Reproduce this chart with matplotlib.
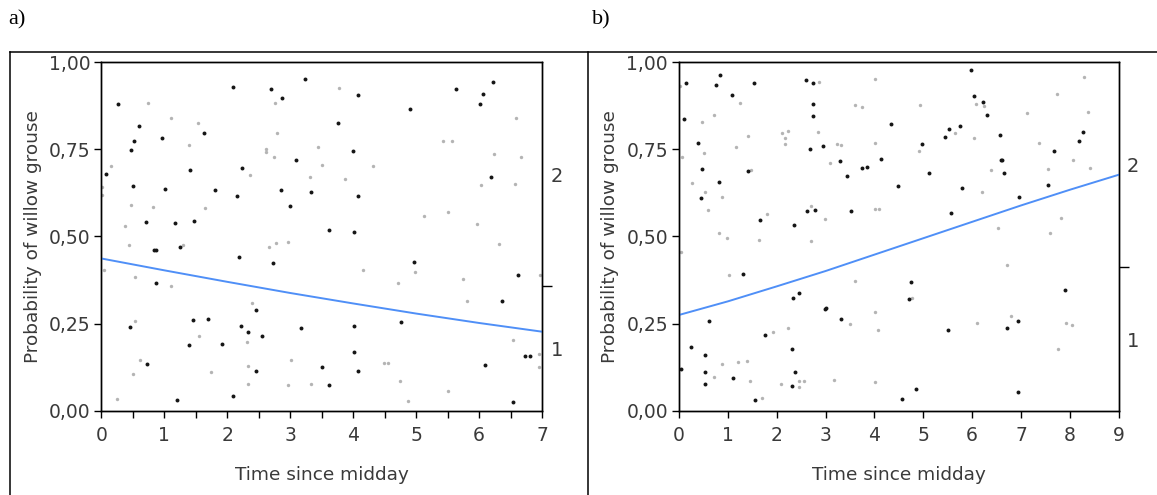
import matplotlib
matplotlib.use("Agg")
import matplotlib.pyplot as plt
from matplotlib.lines import Line2D

# ---- panel a) ----
a_black_x = [0.27, 0.07, 0.97, 0.60, 0.52, 0.47, 0.51, 0.71, 0.84, 0.87, 1.02, 1.17, 1.25, 1.48,
             1.63, 1.41, 1.80, 0.87, 0.72, 0.46, 1.45, 1.39, 1.69, 1.92, 1.20, 2.09, 2.23, 2.16,
             2.18, 2.22, 2.33, 2.45, 2.56, 2.46, 2.09, 2.70, 2.87, 3.23, 2.85, 2.73, 2.99, 3.09,
             3.33, 3.61, 3.76, 4.07, 3.99, 4.07, 4.02, 3.17, 3.50, 3.61, 4.02, 4.01, 4.08, 4.91,
             4.96, 4.76, 5.64, 6.02, 6.07, 6.22, 6.19, 6.62, 6.37, 6.10, 6.54, 6.73, 6.81]
a_black_y = [0.881, 0.679, 0.781, 0.816, 0.775, 0.748, 0.644, 0.541, 0.462, 0.462, 0.635, 0.539,
             0.469, 0.545, 0.796, 0.692, 0.632, 0.367, 0.133, 0.240, 0.260, 0.188, 0.263, 0.191,
             0.031, 0.928, 0.697, 0.617, 0.441, 0.244, 0.227, 0.288, 0.214, 0.114, 0.042, 0.923,
             0.897, 0.952, 0.633, 0.423, 0.587, 0.720, 0.629, 0.519, 0.825, 0.906, 0.746, 0.616,
             0.512, 0.238, 0.127, 0.073, 0.242, 0.170, 0.113, 0.866, 0.427, 0.254, 0.923, 0.880,
             0.909, 0.944, 0.671, 0.389, 0.315, 0.131, 0.024, 0.156, 0.156]
a_grey_x = [0.15, 0.05, 0.01, 0.01, 0.25, 0.75, 0.44, 0.48, 0.38, 0.82, 0.53, 0.54, 0.51, 0.62,
            1.10, 1.10, 1.30, 1.53, 1.56, 1.65, 1.40, 1.75, 2.36, 2.62, 2.62, 2.76, 2.79, 2.74,
            2.67, 2.78, 2.96, 2.32, 2.33, 2.33, 2.39, 3.01, 2.97, 3.31, 3.33, 3.51, 3.45, 3.87,
            3.77, 4.15, 4.32, 4.72, 4.74, 4.49, 4.55, 4.87, 4.98, 5.13, 5.43, 5.57, 5.51, 5.51,
            5.75, 5.81, 5.96, 6.03, 6.24, 6.31, 6.58, 6.57, 6.66, 6.54, 6.95, 6.95, 6.97]
a_grey_y = [0.703, 0.404, 0.643, 0.619, 0.033, 0.882, 0.475, 0.591, 0.530, 0.584, 0.383, 0.259,
            0.107, 0.145, 0.839, 0.358, 0.475, 0.825, 0.215, 0.583, 0.761, 0.112, 0.677, 0.751,
            0.742, 0.882, 0.798, 0.727, 0.470, 0.482, 0.485, 0.198, 0.128, 0.077, 0.310, 0.145,
            0.074, 0.670, 0.077, 0.705, 0.757, 0.665, 0.925, 0.404, 0.702, 0.366, 0.085, 0.136,
            0.136, 0.028, 0.397, 0.559, 0.775, 0.775, 0.570, 0.058, 0.377, 0.314, 0.536, 0.648,
            0.736, 0.478, 0.840, 0.650, 0.728, 0.202, 0.162, 0.126, 0.389]
a_fit_x = [0, 1, 2, 3, 4, 5, 6, 7]
a_fit_y = [0.437, 0.403, 0.370, 0.338, 0.308, 0.279, 0.252, 0.227]
a_split = 0.358

# ---- panel b) ----
b_black_x = [0.15, 0.10, 0.05, 0.25, 0.38, 0.47, 0.44, 0.53, 0.53, 0.53, 0.62, 0.75, 0.83, 0.82,
             1.09, 1.11, 1.31, 1.41, 1.53, 1.55, 1.65, 1.75, 2.36, 2.33, 2.45, 2.32, 2.38, 2.32,
             2.60, 2.68, 2.74, 2.74, 2.74, 2.62, 2.78, 2.95, 2.98, 3.01, 3.30, 3.32, 3.44, 3.52,
             3.75, 3.85, 4.14, 4.33, 4.48, 4.70, 4.74, 4.56, 4.86, 4.98, 5.12, 5.44, 5.53, 5.75,
             5.57, 5.51, 5.80, 5.97, 6.03, 6.23, 6.31, 6.58, 6.59, 6.62, 6.66, 6.71, 6.95, 6.94,
             6.94, 7.55, 7.68, 7.90, 8.18, 8.27]
b_black_y = [0.939, 0.836, 0.119, 0.184, 0.769, 0.693, 0.610, 0.160, 0.110, 0.076, 0.257, 0.933,
             0.963, 0.656, 0.906, 0.093, 0.393, 0.687, 0.939, 0.030, 0.546, 0.217, 0.532, 0.324,
             0.337, 0.177, 0.112, 0.071, 0.948, 0.750, 0.939, 0.881, 0.846, 0.574, 0.575, 0.759,
             0.291, 0.296, 0.717, 0.262, 0.674, 0.574, 0.697, 0.698, 0.721, 0.822, 0.645, 0.322,
             0.369, 0.033, 0.063, 0.766, 0.683, 0.784, 0.809, 0.818, 0.568, 0.233, 0.639, 0.976,
             0.903, 0.887, 0.848, 0.791, 0.720, 0.720, 0.681, 0.238, 0.612, 0.259, 0.054, 0.647,
             0.744, 0.347, 0.774, 0.800]
b_grey_x = [0.02, 0.06, 0.04, 0.26, 0.47, 0.51, 0.53, 0.60, 0.71, 0.82, 0.87, 0.98, 1.02, 0.88,
            0.71, 1.17, 1.25, 1.21, 1.39, 1.45, 1.47, 1.42, 1.64, 1.80, 1.69, 1.93, 2.10, 2.17,
            2.16, 2.23, 2.09, 2.23, 2.46, 2.46, 2.55, 2.71, 2.71, 2.85, 2.87, 2.99, 3.09, 3.17,
            3.23, 3.32, 3.50, 3.60, 3.75, 3.61, 4.02, 4.02, 4.01, 4.02, 4.10, 4.02, 4.08, 4.76,
            4.91, 4.94, 5.64, 6.04, 6.08, 6.24, 6.09, 6.20, 6.38, 6.52, 6.71, 6.80, 7.13, 7.37,
            7.55, 7.74, 7.60, 7.82, 7.75, 7.92, 8.05, 8.06, 8.29, 8.38, 8.41]
b_grey_y = [0.932, 0.727, 0.455, 0.652, 0.828, 0.738, 0.629, 0.576, 0.849, 0.509, 0.614, 0.495,
            0.390, 0.134, 0.097, 0.756, 0.884, 0.141, 0.143, 0.087, 0.691, 0.789, 0.491, 0.564,
            0.037, 0.226, 0.798, 0.782, 0.766, 0.802, 0.078, 0.238, 0.087, 0.069, 0.085, 0.588,
            0.486, 0.799, 0.944, 0.549, 0.710, 0.088, 0.765, 0.762, 0.250, 0.876, 0.872, 0.373,
            0.953, 0.769, 0.284, 0.578, 0.578, 0.082, 0.233, 0.324, 0.744, 0.877, 0.798, 0.781,
            0.879, 0.875, 0.251, 0.629, 0.690, 0.523, 0.418, 0.272, 0.855, 0.769, 0.693, 0.909,
            0.509, 0.554, 0.176, 0.251, 0.247, 0.720, 0.957, 0.858, 0.696]
b_fit_x = [0, 1, 2, 3, 4, 5, 6, 7, 8, 9]
b_fit_y = [0.275, 0.314, 0.357, 0.401, 0.448, 0.495, 0.542, 0.589, 0.634, 0.677]
b_split = 0.412

y_ticks = [0.0, 0.25, 0.5, 0.75, 1.0]
y_tick_labels = ["0,00", "0,25", "0,50", "0,75", "1,00"]

TXT = "#3a3a3a"
BLUE = "#4f8ff7"


def draw_panel(ax, bx, by, gx, gy, fx, fy, split, xmax, minor_half):
    ax.scatter(gx, gy, s=6, c="#b4b4b4", linewidths=0, zorder=2)
    ax.scatter(bx, by, s=8, c="#151515", linewidths=0, zorder=3)
    ax.plot(fx, fy, color=BLUE, lw=1.4, zorder=4)

    ax.set_xlim(0, xmax)
    ax.set_ylim(0, 1)
    ax.set_xticks(range(0, xmax + 1))
    if minor_half:
        ax.set_xticks([i + 0.5 for i in range(xmax)], minor=True)
    ax.set_yticks(y_ticks)
    ax.set_yticklabels(y_tick_labels)
    ax.tick_params(axis="both", which="both", direction="out", length=5, width=1.0,
                   colors="black", labelcolor=TXT, labelsize=13.5)
    ax.tick_params(axis="x", pad=6)
    ax.tick_params(axis="y", pad=3)
    for s in ax.spines.values():
        s.set_linewidth(1.0)
        s.set_color("black")

    ax.set_xlabel("Time since midday", fontsize=13.3, color=TXT, labelpad=15)
    ax.set_ylabel("Probability of willow grouse", fontsize=13.3, color=TXT, labelpad=5)

    # response levels on the right side
    axr = ax.twinx()
    axr.set_ylim(0, 1)
    axr.set_yticks([split])
    axr.set_yticklabels([""])
    axr.set_yticks([split / 2, (1 + split) / 2], minor=True)
    axr.set_yticklabels(["1", "2"], minor=True)
    axr.tick_params(axis="y", which="major", direction="out", length=7, width=1.0)
    axr.tick_params(axis="y", which="minor", length=0, pad=6, labelsize=14, labelcolor=TXT)
    for s in axr.spines.values():
        s.set_linewidth(1.0)


fig = plt.figure(figsize=(11.57, 4.95), dpi=100)

ax_a = fig.add_axes([0.0875, 0.170, 0.3810, 0.7045])
draw_panel(ax_a, a_black_x, a_black_y, a_grey_x, a_grey_y, a_fit_x, a_fit_y, a_split, 7, True)

ax_b = fig.add_axes([0.5869, 0.170, 0.3800, 0.7045])
draw_panel(ax_b, b_black_x, b_black_y, b_grey_x, b_grey_y, b_fit_x, b_fit_y, b_split, 9, False)

# table-like frame around the panels
top = 1 - 52 / 495
fig.add_artist(Line2D([10 / 1157, 1.0], [top, top], color="black", lw=1.1))
fig.add_artist(Line2D([10 / 1157, 10 / 1157], [0, top], color="black", lw=1.1))
fig.add_artist(Line2D([588 / 1157, 588 / 1157], [0, top], color="black", lw=1.1))

fig.text(8 / 1157, 1 - 20 / 495, "a)", family="Liberation Serif", fontsize=16, va="center")
fig.text(592 / 1157, 1 - 20 / 495, "b)", family="Liberation Serif", fontsize=16, va="center")

fig.savefig("out.png", dpi=100)
